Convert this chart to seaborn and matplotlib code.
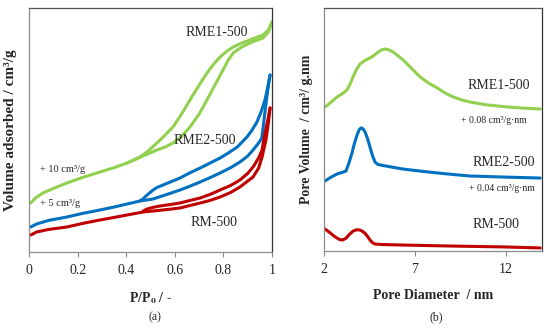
import pandas as pd
import matplotlib
matplotlib.use("Agg")
import matplotlib.pyplot as plt
import seaborn as sns

# (a) N2 isotherms, relative pressure vs volume adsorbed (offsets already included)
rme1_ads_p = [0.006, 0.025, 0.056, 0.10, 0.155, 0.22, 0.291, 0.35, 0.403, 0.468, 0.526, 0.56, 0.592, 0.625,
              0.662, 0.70, 0.732, 0.765, 0.798, 0.82, 0.840, 0.875, 0.909, 0.94, 0.963, 0.985, 1.0]
rme1_ads_v = [24.5, 27.0, 29.5, 31.8, 34.5, 37.3, 40.0, 42.2, 44.5, 48.0, 51.0, 52.5, 54.5, 57.5,
              62.5, 69.0, 76.0, 83.5, 91.0, 96.0, 99.5, 102.5, 104.5, 106.0, 107.0, 110.0, 115.0]
rme1_des_p = [0.403, 0.456, 0.49, 0.526, 0.56, 0.592, 0.625, 0.662, 0.70, 0.732, 0.76, 0.786, 0.815,
              0.840, 0.875, 0.909, 0.94, 0.963, 0.985, 1.0]
rme1_des_v = [44.5, 47.5, 50.5, 54.5, 58.5, 62.5, 68.5, 76.0, 83.5, 89.5, 94.0, 97.5, 100.5,
              102.5, 104.5, 106.0, 107.5, 108.5, 111.0, 115.0]

rme2_ads_p = [0.006, 0.03, 0.08, 0.155, 0.22, 0.291, 0.35, 0.403, 0.456, 0.510, 0.565, 0.621, 0.66, 0.704,
              0.745, 0.786, 0.83, 0.868, 0.90, 0.922, 0.945, 0.958, 0.966, 0.975, 0.983, 0.992]
rme2_ads_v = [12.5, 14.0, 15.8, 17.5, 19.3, 21.0, 22.5, 24.0, 25.5, 26.5, 28.7, 31.0, 32.8, 35.0,
              37.2, 39.5, 42.2, 45.0, 48.0, 51.0, 54.5, 57.0, 65.0, 74.0, 81.5, 88.5]
rme2_des_p = [0.456, 0.468, 0.481, 0.495, 0.510, 0.525, 0.551, 0.585, 0.621, 0.66, 0.704, 0.745, 0.786,
              0.82, 0.857, 0.897, 0.918, 0.938, 0.955, 0.971, 0.980, 0.992]
rme2_des_v = [25.5, 26.5, 28.0, 29.5, 31.0, 32.2, 33.5, 35.2, 37.0, 39.5, 42.0, 44.5, 47.0,
              49.5, 52.5, 57.5, 61.0, 65.0, 70.0, 76.0, 81.0, 88.5]

rm_ads_p = [0.006, 0.03, 0.08, 0.155, 0.22, 0.291, 0.35, 0.403, 0.469, 0.510, 0.565, 0.621, 0.66, 0.704,
            0.745, 0.786, 0.83, 0.868, 0.90, 0.922, 0.945, 0.959, 0.975, 0.984, 0.992]
rm_ads_v = [8.5, 10.0, 11.3, 12.5, 14.3, 16.0, 17.3, 18.5, 20.0, 20.5, 21.2, 22.0, 23.2, 24.5,
            25.8, 27.5, 29.8, 32.5, 35.5, 37.5, 42.0, 47.5, 56.0, 63.5, 72.0]
rm_des_p = [0.469, 0.485, 0.51, 0.538, 0.58, 0.621, 0.66, 0.704, 0.745, 0.786, 0.83, 0.868, 0.90,
            0.922, 0.945, 0.959, 0.971, 0.982, 0.992]
rm_des_v = [20.5, 21.5, 22.3, 23.0, 23.7, 24.5, 25.7, 27.0, 28.8, 31.0, 33.3, 36.0, 39.3,
            42.5, 47.0, 51.0, 59.5, 65.5, 72.0]

# (b) pore size distributions (offsets already included)
rme1_d = [2.06, 2.4, 2.72, 3.0, 3.27, 3.45, 3.60, 3.8, 3.98, 4.25, 4.53, 4.75, 4.92, 5.15, 5.36, 5.6, 5.80,
          6.05, 6.35, 6.8, 7.29, 7.75, 8.23, 8.65, 9.11, 9.6, 10.04, 10.98, 12.08, 13.0, 13.90]
rme1_psd = [0.0847, 0.0876, 0.0906, 0.0924, 0.0947, 0.0985, 0.1024, 0.1070, 0.1100, 0.1120, 0.1135, 0.1150,
            0.1165, 0.1182, 0.1188, 0.1182, 0.1171, 0.1150, 0.1124, 0.1076, 0.1024, 0.0988, 0.0959, 0.0930,
            0.0906, 0.0888, 0.0876, 0.0859, 0.0847, 0.0840, 0.0835]
rme2_d = [2.06, 2.4, 2.72, 3.0, 3.21, 3.38, 3.54, 3.68, 3.82, 3.93, 4.04, 4.15, 4.26, 4.40, 4.53, 4.67, 4.81,
          4.95, 5.09, 5.7, 6.35, 7.3, 8.23, 9.1, 10.04, 11.86, 13.90]
rme2_psd = [0.0412, 0.0435, 0.0453, 0.0462, 0.0470, 0.0520, 0.0576, 0.0635, 0.0682, 0.0712, 0.0724, 0.0718,
            0.0700, 0.0660, 0.0612, 0.0560, 0.0523, 0.0510, 0.0506, 0.0494, 0.0482, 0.0470, 0.0459, 0.0450,
            0.0441, 0.0435, 0.0429]
rm_d = [2.06, 2.3, 2.55, 2.8, 3.0, 3.2, 3.4, 3.6, 3.8, 3.95, 4.1, 4.26, 4.4, 4.53, 4.67, 4.81, 5.2, 6.35,
        9.11, 11.86, 13.90]
rm_psd = [0.0129, 0.0110, 0.0088, 0.0070, 0.0064, 0.0074, 0.0098, 0.0117, 0.0125, 0.0124, 0.0117, 0.0104,
          0.0085, 0.0065, 0.0049, 0.0041, 0.0038, 0.0035, 0.0029, 0.0024, 0.0018]

colors = {"RME1-500": "#92D050", "RME2-500": "#0070C0", "RM-500": "#C00000"}

sns.set_style("white")
plt.rcParams['font.family'] = ['Liberation Serif', 'DejaVu Serif']
plt.rcParams['mathtext.fontset'] = 'stix'

fig = plt.figure(figsize=(5.5, 3.29), dpi=100)
ax1 = fig.add_axes([29.3 / 550, 77 / 329, 242.7 / 550, 244 / 329])
ax2 = fig.add_axes([324 / 550, 78 / 329, 218 / 550, 243 / 329])

# isotherm branches (adsorption + desorption)
branches = [
    ("RME1-500", rme1_ads_p, rme1_ads_v), ("RME1-500", rme1_des_p, rme1_des_v),
    ("RME2-500", rme2_ads_p, rme2_ads_v), ("RME2-500", rme2_des_p, rme2_des_v),
    ("RM-500", rm_ads_p, rm_ads_v), ("RM-500", rm_des_p, rm_des_v),
]
for name, p, v in branches:
    df = pd.DataFrame({"p": p, "v": v})
    sns.lineplot(data=df, x="p", y="v", ax=ax1, color=colors[name], linewidth=2.2, estimator=None)

psd = [("RME1-500", rme1_d, rme1_psd), ("RME2-500", rme2_d, rme2_psd), ("RM-500", rm_d, rm_psd)]
for name, d, v in psd:
    df = pd.DataFrame({"d": d, "v": v})
    sns.lineplot(data=df, x="d", y="v", ax=ax2, color=colors[name], linewidth=2.2, estimator=None)

ax1.set_xlim(0, 1)
ax1.set_ylim(0, 122)
ax1.set_xticks([0, 0.2, 0.4, 0.6, 0.8, 1])
ax1.set_xticklabels(["0", "0.2", "0.4", "0.6", "0.8", "1"])
ax2.set_xlim(2, 14)
ax2.set_ylim(0, 0.1429)
ax2.set_xticks([2, 7, 12])

for ax in (ax1, ax2):
    ax.set_yticks([])
    ax.tick_params(axis='x', direction='out', length=3.5, width=0.8, color='#888888',
                   labelsize=10, pad=5, bottom=True)
    ax.spines['left'].set_color('#8c8c8c')
    ax.spines['bottom'].set_color('#8c8c8c')
    ax.spines['top'].set_color('#555555')
    ax.spines['right'].set_color('#333333')
    for s in ax.spines.values():
        s.set_linewidth(0.9)

ax1.set_xlabel(r"P/P$_\mathbf{o}$ / -", fontsize=10, fontweight='bold')
ax1.set_ylabel("Volume adsorbed / cm³/g", fontsize=11, fontweight='bold')
ax1.xaxis.set_label_coords(0.5, -0.156)
ax1.yaxis.set_label_coords(-0.05, 0.5)

ax2.set_xlabel("Pore Diameter  / nm", fontsize=10, fontweight='bold')
ax2.set_ylabel("Pore Volume  / cm³/ g.nm", fontsize=10, fontweight='bold')
ax2.xaxis.set_label_coords(0.5, -0.156)
ax2.yaxis.set_label_coords(-0.05, 0.5)

# curve labels
ax1.text(0.773, 109.5, "RME1-500", fontsize=10, ha='center', va='center')
ax1.text(0.724, 56, "RME2-500", fontsize=10, ha='center', va='center')
ax1.text(0.761, 15, "RM-500", fontsize=10, ha='center', va='center')
ax1.text(0.044, 41.5, "+ 10 cm³/g", fontsize=7.5, ha='left', va='center')
ax1.text(0.044, 24, "+ 5 cm³/g", fontsize=7.5, ha='left', va='center')

ax2.text(11.64, 0.0976, "RME1-500", fontsize=10, ha='center', va='center')
ax2.text(11.37, 0.0770, "+ 0.08 cm³/g·nm", fontsize=7, ha='center', va='center')
ax2.text(11.92, 0.0523, "RME2-500", fontsize=10, ha='center', va='center')
ax2.text(11.81, 0.0370, "+ 0.04 cm³/g·nm", fontsize=7, ha='center', va='center')
ax2.text(11.48, 0.0153, "RM-500", fontsize=10, ha='center', va='center')

fig.text(155 / 550, 1 - 317 / 329, "(a)", fontsize=8.5, ha='center', va='center')
fig.text(436 / 550, 1 - 317 / 329, "(b)", fontsize=8.5, ha='center', va='center')

fig.savefig("out.png", dpi=100)
